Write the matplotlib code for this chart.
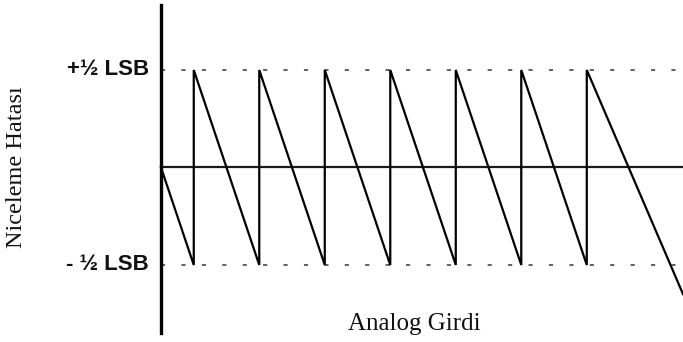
import matplotlib
matplotlib.use("Agg")
import matplotlib.pyplot as plt

# Quantisation error of an ideal converter, in LSB units
step_positions = [0.5, 1.5, 2.5, 3.5, 4.5, 5.5, 6.5]   # code transitions
half_lsb = 0.5
final_x = 7.97          # analog input beyond the last transition
final_error = -0.65     # error keeps growing past full scale

level_labels = ["+\u00bd LSB", "- \u00bd LSB"]
level_values = [half_lsb, -half_lsb]
x_label = "Analog Girdi"
y_label = "Niceleme Hatası"

plt.rcParams["lines.scale_dashes"] = False

fig = plt.figure(figsize=(6.83, 3.42), dpi=100)
ax = fig.add_axes([0, 0, 1, 1])
ax.set_xlim(-2.458, 7.969)
ax.set_ylim(-0.895, 0.859)
ax.axis("off")

# sawtooth error curve
xs = [0.0]
ys = [0.0]
for s in step_positions:
    xs += [s, s]
    ys += [-half_lsb, half_lsb]
xs.append(final_x)
ys.append(final_error)

# diagonal ramps and vertical jumps
ax.plot(xs, ys, color="black", lw=1.6, solid_joinstyle="miter", zorder=3)

# +/- 1/2 LSB bounds
for v in level_values:
    ax.plot([0.0, 7.969], [v, v], color="#555555", lw=1.3,
            linestyle=(0, (3.0, 11.7)), zorder=1)

# zero-error line and vertical axis
ax.plot([0.0, 7.969], [0, 0], color="#1a1a1a", lw=1.6, zorder=2)
ax.plot([0.0, 0.0], [-0.85, 0.833], color="black", lw=2.4, zorder=4)

for lab, v in zip(level_labels, level_values):
    ax.text(-0.18, v, lab, ha="right", va="center", fontsize=16,
            family="Liberation Sans", fontweight="bold", color="#111111")

ax.text(3.87, -0.805, x_label, ha="center", va="center", fontsize=18,
        family="Liberation Serif", color="#111111")
ax.text(-2.20, 0.0, y_label, ha="center", va="center", rotation=90,
        fontsize=17.5, family="Liberation Serif", color="#111111")

fig.savefig("out.png", dpi=100)
